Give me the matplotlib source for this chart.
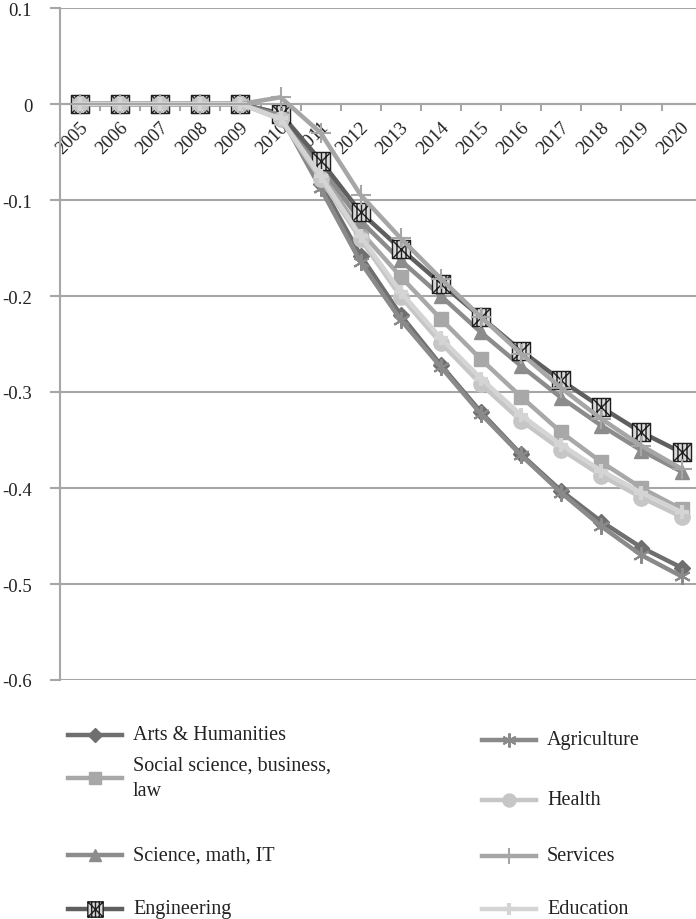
import matplotlib
matplotlib.use("Agg")
import matplotlib.pyplot as plt
from matplotlib.lines import Line2D
from matplotlib.path import Path
from matplotlib.transforms import ScaledTranslation

plt.rcParams['font.family'] = ['Liberation Serif', 'DejaVu Serif']

years = [str(y) for y in range(2005, 2021)]

arts = [0, 0, 0, 0, 0, -0.012, -0.083, -0.158, -0.220, -0.272, -0.321, -0.365, -0.403, -0.435, -0.462, -0.483]
social = [0, 0, 0, 0, 0, -0.013, -0.070, -0.133, -0.180, -0.224, -0.266, -0.305, -0.342, -0.373, -0.400, -0.422]
science = [0, 0, 0, 0, 0, -0.010, -0.065, -0.122, -0.163, -0.200, -0.238, -0.273, -0.306, -0.335, -0.361, -0.383]
engineering = [0, 0, 0, 0, 0, -0.010, -0.059, -0.113, -0.151, -0.187, -0.222, -0.257, -0.288, -0.316, -0.342, -0.363]
agriculture = [0, 0, 0, 0, 0, -0.012, -0.088, -0.165, -0.225, -0.274, -0.323, -0.366, -0.405, -0.440, -0.470, -0.492]
health = [0, 0, 0, 0, 0, -0.016, -0.078, -0.141, -0.201, -0.249, -0.292, -0.330, -0.360, -0.387, -0.410, -0.430]
services = [0, 0, 0, 0, 0, 0.007, -0.030, -0.095, -0.140, -0.182, -0.222, -0.260, -0.296, -0.328, -0.356, -0.380]
education = [0, 0, 0, 0, 0, -0.015, -0.075, -0.138, -0.196, -0.244, -0.286, -0.324, -0.355, -0.382, -0.405, -0.425]

# engineering marker: square with an X and vertical hatching
verts = [(-1, -1), (1, -1), (1, 1), (-1, 1), (-1, -1),
         (-1, -1), (1, 1), (-1, 1), (1, -1),
         (-0.5, -1), (-0.5, 1), (0, -1), (0, 1), (0.5, -1), (0.5, 1)]
codes = [Path.MOVETO, Path.LINETO, Path.LINETO, Path.LINETO, Path.CLOSEPOLY,
         Path.MOVETO, Path.LINETO, Path.MOVETO, Path.LINETO,
         Path.MOVETO, Path.LINETO, Path.MOVETO, Path.LINETO, Path.MOVETO, Path.LINETO]
eng_marker = Path(verts, codes)

series = [
    ("Arts & Humanities", arts, dict(color='#6f6f6f', marker='D', ms=8, mfc='#6f6f6f', mec='#6f6f6f')),
    ("Social science, business,\nlaw", social, dict(color='#a8a8a8', marker='s', ms=10, mfc='#a8a8a8', mec='#a8a8a8')),
    ("Science, math, IT", science, dict(color='#8c8c8c', marker='^', ms=10, mfc='#8c8c8c', mec='#8c8c8c')),
    ("Engineering", engineering, dict(color='#5f5f5f', marker=eng_marker, ms=13, mfc='#d8d8d8', mec='#202020', mew=1.0)),
    ("Agriculture", agriculture, dict(color='#8a8a8a', marker=(6, 2, 0), ms=12, mec='#8a8a8a', mew=1.5)),
    ("Health", health, dict(color='#c6c6c6', marker='o', ms=11, mfc='#c6c6c6', mec='#c6c6c6')),
    ("Services", services, dict(color='#a6a6a6', marker='+', ms=14, mec='#a6a6a6', mew=1.5)),
    ("Education", education, dict(color='#d4d4d4', marker='+', ms=10, mec='#d4d4d4', mew=3)),
]

W, H = 696, 920
fig = plt.figure(figsize=(W / 100, H / 100), dpi=100)
ax = fig.add_axes([60 / W, (H - 681) / H, 641.6 / W, 672 / H])

x = list(range(len(years)))
lw = 3.2
for name, vals, st in series:
    ax.plot(x, vals, lw=lw, solid_joinstyle='round', clip_on=False, **st)

ax.set_xlim(-0.5, 15.5)
ax.set_ylim(-0.6, 0.1)
ax.set_yticks([0.1, 0, -0.1, -0.2, -0.3, -0.4, -0.5, -0.6])
ax.set_yticklabels(['0.1', '0', '-0.1', '-0.2', '-0.3', '-0.4', '-0.5', '-0.6'])
ax.yaxis.grid(True, color='#a6a6a6', lw=1.5)
ax.set_axisbelow(True)

for s in ['top', 'right']:
    ax.spines[s].set_visible(False)
ax.spines['left'].set_color('#a6a6a6')
ax.spines['left'].set_linewidth(1.5)
ax.spines['bottom'].set_position(('data', 0))
ax.spines['bottom'].set_color('#a6a6a6')
ax.spines['bottom'].set_linewidth(1.5)

ax.set_xticks(x)
ax.set_xticklabels(years, rotation=45, ha='right', va='top')
ax.set_xticks([i - 0.5 for i in range(len(years) + 1)], minor=True)
ax.tick_params(axis='x', which='major', length=0, pad=10, labelsize=13.5, labelcolor='#222222')
ax.tick_params(axis='x', which='minor', length=5, width=1.5, color='#a6a6a6', direction='out')
ax.tick_params(axis='y', length=7, width=1.5, color='#a6a6a6', pad=13, labelsize=13.5, labelcolor='#222222')
off = ScaledTranslation(8 / 72, 0, fig.dpi_scale_trans)
for lab in ax.get_xticklabels():
    lab.set_transform(lab.get_transform() + off)

# legend laid out like the original two-column block
leg_pos = [(68, 736), (68, 779), (68, 856), (68, 910),
           (482, 741), (482, 801), (482, 857), (482, 910)]
for (name, vals, st), (lx, ly) in zip(series, leg_pos):
    yy = (H - ly) / H
    hl = Line2D([lx / W, (lx + 54) / W], [yy, yy], lw=lw, transform=fig.transFigure,
                color=st['color'])
    fig.add_artist(hl)
    mk = {k: v for k, v in st.items() if k != 'color'}
    mk['ms'] = mk['ms'] * 0.85
    hm = Line2D([(lx + 27) / W], [yy], lw=0, transform=fig.transFigure, **mk)
    fig.add_artist(hm)
    fig.text((lx + 65) / W, yy, name, fontsize=14.5, va='center', ha='left',
             linespacing=1.45, color='#222222')

fig.savefig('out.png', dpi=100)
